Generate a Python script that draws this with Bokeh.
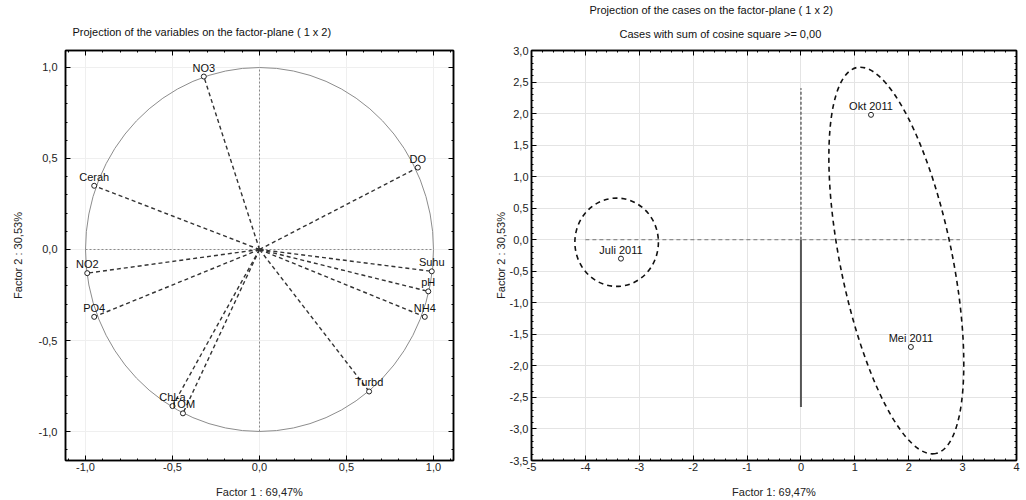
import numpy as np
from bokeh.plotting import figure
from bokeh.layouts import row
from bokeh.models import FixedTicker, LinearAxis, Range1d, Title, ColumnDataSource, CustomJSTickFormatter
from bokeh.embed import file_html
from bokeh.resources import INLINE
from bokeh.core.properties import value

FONT = "Liberation Sans"

# ---------------- data ----------------
var_names = ["NO3", "DO", "Cerah", "NO2", "PO4", "Suhu", "pH", "NH4", "Turbd", "Chl-a", "TOM"]
var_f1 = [-0.32, 0.91, -0.95, -0.99, -0.95, 0.99, 0.97, 0.95, 0.63, -0.50, -0.44]
var_f2 = [0.95, 0.45, 0.35, -0.13, -0.37, -0.12, -0.23, -0.37, -0.78, -0.86, -0.90]

case_names = ["Okt 2011", "Juli 2011", "Mei 2011"]
case_f1 = [1.30, -3.34, 2.04]
case_f2 = [1.98, -0.30, -1.70]

left_ticks = [-1.0, -0.5, 0.0, 0.5, 1.0]
left_tick_labels = ["-1,0", "-0,5", "0,0", "0,5", "1,0"]
right_x_ticks = [-5, -4, -3, -2, -1, 0, 1, 2, 3, 4]
right_x_labels = ["-5", "-4", "-3", "-2", "-1", "0", "1", "2", "3", "4"]
right_y_ticks = [3.0, 2.5, 2.0, 1.5, 1.0, 0.5, 0.0, -0.5, -1.0, -1.5, -2.0, -2.5, -3.0, -3.5]
right_y_labels = ["3,0", "2,5", "2,0", "1,5", "1,0", "0,5", "0,0", "-0,5", "-1,0", "-1,5", "-2,0", "-2,5", "-3,0", "-3,5"]

title_left = "Projection of the variables on the factor-plane ( 1 x  2)"
title_right_1 = "Projection of the cases on the factor-plane ( 1 x  2)"
title_right_2 = "Cases with sum of cosine square >= 0,00"
xlabel_left = "Factor 1 : 69,47%"
ylabel_left = "Factor 2 : 30,53%"
xlabel_right = "Factor 1: 69,47%"
ylabel_right = "Factor 2 : 30,53%"

# cluster ellipses
juli_ell = dict(x=-3.42, y=-0.04, w=1.55, h=1.40)
big_ell = dict(x=1.77, y=-0.33, w=394, h=112, angle=-1.370)  # size in screen px

EMPTY = CustomJSTickFormatter(code="return ''")


def make_title(text, offset, standoff):
    return Title(text=text, align="left", offset=offset, standoff=standoff, text_font=FONT,
                 text_font_size="11px", text_font_style="normal", text_color="#111111")


def style_axes(p, xt, xl, xminor, yt, yl, yminor, lab_std_x, lab_std_y, ttl_std_x, ttl_std_y):
    p.xaxis.ticker = FixedTicker(ticks=xt, minor_ticks=xminor)
    p.yaxis.ticker = FixedTicker(ticks=yt, minor_ticks=yminor)
    p.xaxis.major_label_overrides = dict(zip(xt, xl))
    p.yaxis.major_label_overrides = dict(zip(yt, yl))
    p.xaxis.major_label_standoff = lab_std_x
    p.yaxis.major_label_standoff = lab_std_y
    p.xaxis.axis_label_standoff = ttl_std_x
    p.yaxis.axis_label_standoff = ttl_std_y
    for ax in (p.xaxis[0], p.yaxis[0]):
        ax.major_tick_in = 5
        ax.major_tick_out = 0
        ax.minor_tick_in = 2
        ax.minor_tick_out = 0
        ax.axis_line_color = "black"
        ax.axis_line_width = 1.5
        ax.major_label_text_font = FONT
        ax.major_label_text_font_size = "11px"
        ax.major_label_text_color = "#222222"
        ax.axis_label_text_font = FONT
        ax.axis_label_text_font_size = "11px"
        ax.axis_label_text_font_style = "normal"
        ax.axis_label_text_color = "#222222"
    top = LinearAxis(ticker=FixedTicker(ticks=xt, minor_ticks=xminor), formatter=EMPTY,
                     major_tick_in=5, major_tick_out=0, minor_tick_in=2, minor_tick_out=0,
                     major_label_standoff=0, axis_label_standoff=0,
                     axis_line_color="black", axis_line_width=1.5)
    right = LinearAxis(ticker=FixedTicker(ticks=yt, minor_ticks=yminor), formatter=EMPTY,
                       major_tick_in=5, major_tick_out=0, minor_tick_in=2, minor_tick_out=0,
                       major_label_standoff=0, axis_label_standoff=0,
                       axis_line_color="black", axis_line_width=1.5)
    p.add_layout(top, "above")
    p.add_layout(right, "right")
    p.outline_line_color = "black"
    p.outline_line_width = 1.5


# ---------------- left figure ----------------
p1 = figure(width=491, height=500, x_range=Range1d(-1.115, 1.115), y_range=Range1d(-1.159, 1.093),
            output_backend="svg", toolbar_location=None, title=None,
            min_border_left=65, min_border_right=38, min_border_top=50, min_border_bottom=40,
            x_axis_label=xlabel_left, y_axis_label=ylabel_left)
p1.background_fill_color = "white"
p1.border_fill_color = "white"
p1.grid.grid_line_color = "#efefef"

style_axes(p1, left_ticks, left_tick_labels, list(np.round(np.arange(-1.1, 1.11, 0.1), 2)),
           left_ticks, left_tick_labels, list(np.round(np.arange(-1.1, 1.11, 0.1), 2)),
           2, 8, 12, 12)
p1.add_layout(make_title(title_left, 7, 25), "above")

# unit circle and crosshair
p1.ellipse(x=0, y=0, width=2, height=2, fill_color=None, line_color="#8c8c8c", line_width=1)
p1.segment(x0=[-1.0, 0.0], y0=[0.0, -1.0], x1=[1.0, 0.0], y1=[0.0, 1.0],
           line_color="#8a8a8a", line_dash="2 2", line_width=1)

src1 = ColumnDataSource(dict(x=var_f1, y=var_f2, name=var_names))
p1.segment(x0=0, y0=0, x1="x", y1="y", source=src1, line_color="#333333", line_dash="4 3", line_width=1.4)
p1.scatter(x="x", y="y", source=src1, marker="circle", size=5, fill_color="white",
           line_color="#222222", line_width=1)
p1.text(x="x", y="y", text="name", source=src1, text_align="center", text_baseline="bottom",
        y_offset=-3, text_font=value(FONT), text_font_size="11px", text_color="#111111")

# ---------------- right figure ----------------
p2 = figure(width=535, height=500, x_range=Range1d(-5, 4), y_range=Range1d(-3.5, 3.0),
            output_backend="svg", toolbar_location=None, title=None,
            min_border_left=36, min_border_right=10, min_border_top=48, min_border_bottom=40,
            x_axis_label=xlabel_right, y_axis_label=ylabel_right)
p2.background_fill_color = "white"
p2.border_fill_color = "white"
p2.grid.grid_line_color = "#e4e4e4"

style_axes(p2, right_x_ticks, right_x_labels, list(np.round(np.arange(-5, 4.01, 0.2), 2)),
           right_y_ticks, right_y_labels, list(np.round(np.arange(-3.5, 3.01, 0.1), 2)),
           2, 3, 12, 0)
p2.add_layout(make_title(title_right_2, 88, 21), "above")
p2.add_layout(make_title(title_right_1, 58, 0), "above")

# reference lines
p2.segment(x0=[-4.0], y0=[0.0], x1=[2.95], y1=[0.0], line_color="#777777", line_dash="4 3", line_width=1)
p2.segment(x0=[0.0], y0=[0.0], x1=[0.0], y1=[2.4], line_color="#666666", line_dash="3 2", line_width=1.5)
p2.segment(x0=[0.0], y0=[0.0], x1=[0.0], y1=[-2.65], line_color="#555555", line_width=2)

# cluster ellipses
p2.ellipse(x=juli_ell["x"], y=juli_ell["y"], width=juli_ell["w"], height=juli_ell["h"],
           fill_color=None, line_color="#111111", line_dash="5 4", line_width=1.6)
p2.ellipse(x=big_ell["x"], y=big_ell["y"], width=big_ell["w"], height=big_ell["h"], angle=big_ell["angle"],
           width_units="screen", height_units="screen",
           fill_color=None, line_color="#111111", line_dash="5 4", line_width=1.6)

src2 = ColumnDataSource(dict(x=case_f1, y=case_f2, name=case_names))
p2.scatter(x="x", y="y", source=src2, marker="circle", size=5, fill_color="white",
           line_color="#222222", line_width=1)
p2.text(x="x", y="y", text="name", source=src2, text_align="center", text_baseline="bottom",
        y_offset=-3, text_font=value(FONT), text_font_size="11px", text_color="#111111")

layout = row(p1, p2, spacing=0)
open("out.html", "w").write(file_html(layout, INLINE))
